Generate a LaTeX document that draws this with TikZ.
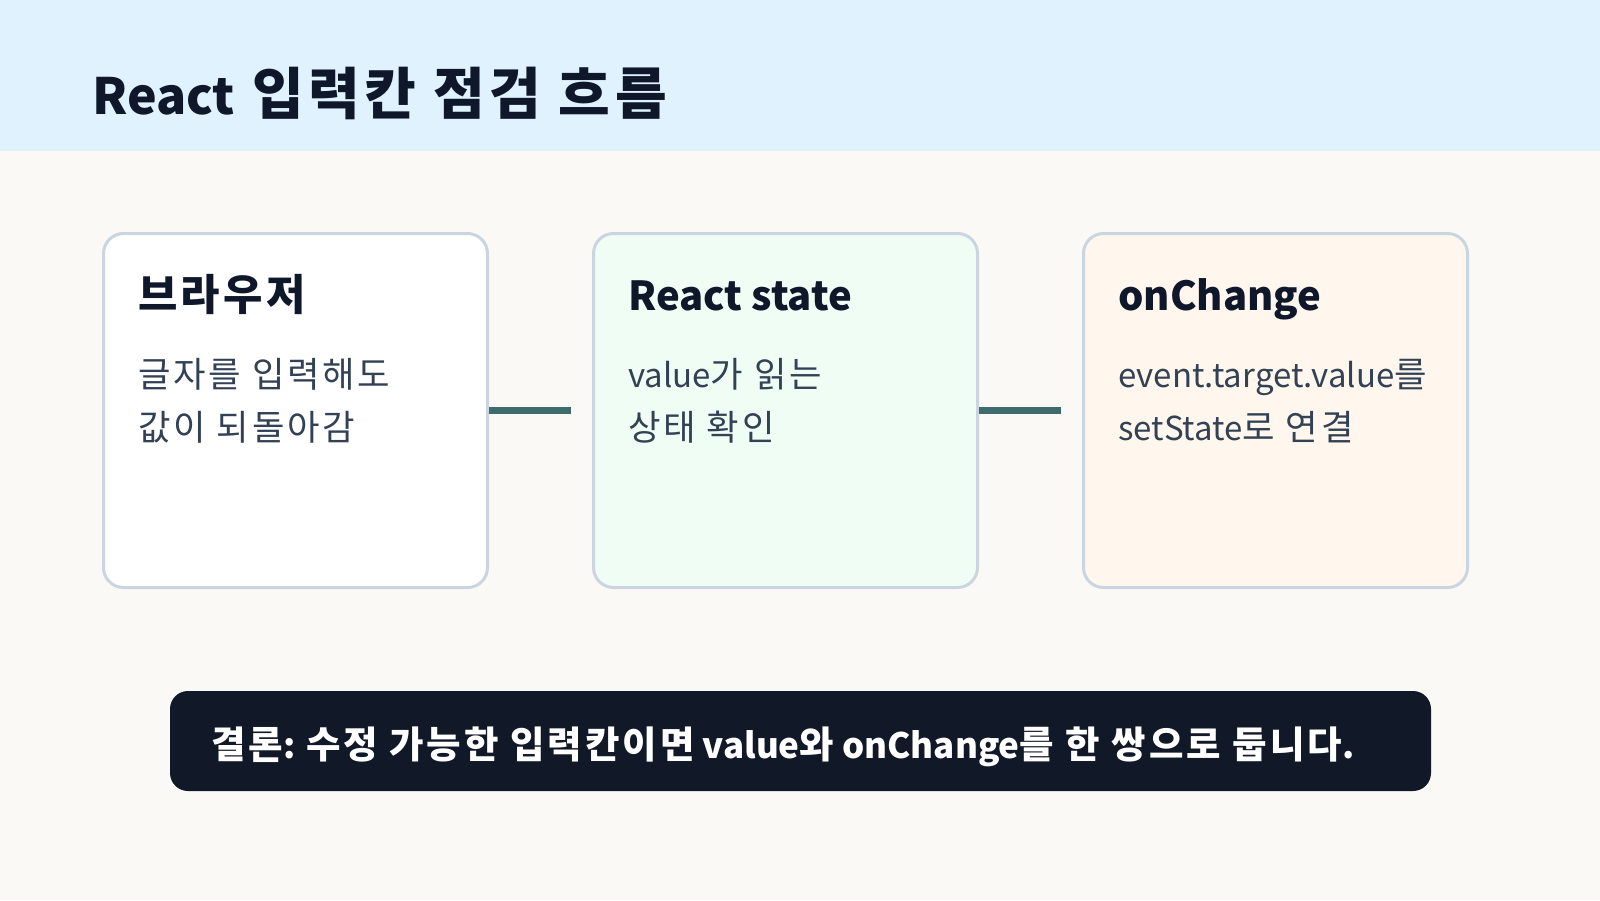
\documentclass[tikz,border=0pt]{standalone}
\usepackage{fontspec}
\setmainfont{Noto Sans CJK KR}
\newfontfamily\kr{Noto Sans CJK KR}[Scale=1.07, LetterSpace=8]
\definecolor{headbg}{HTML}{E0F2FE}
\definecolor{pagebg}{HTML}{FAF9F6}
\definecolor{cardline}{HTML}{CBD5E1}
\definecolor{inkdark}{HTML}{0F172A}
\definecolor{inkbody}{HTML}{334155}
\definecolor{connline}{HTML}{3E6B6C}
\definecolor{greenfill}{HTML}{F0FDF4}
\definecolor{orangefill}{HTML}{FFF7ED}
\definecolor{navy}{HTML}{111827}
\tikzset{
  card/.style={draw=cardline, line width=3pt, rounded corners=20pt, minimum width=384pt, minimum height=354pt, inner sep=0pt},
  cardtitle/.style={anchor=base west, inner sep=0pt, text=inkdark, font=\fontsize{40}{48}\selectfont\bfseries},
  cardbody/.style={anchor=base west, inner sep=0pt, text=inkbody, font=\fontsize{33}{40}\selectfont},
  conn/.style={draw=connline, line width=7pt},
}
\begin{document}
\begin{tikzpicture}[x=1pt,y=-1pt]
\useasboundingbox (0,0) rectangle (1600,900);
\fill[pagebg] (0,0) rectangle (1600,900);
\fill[headbg] (0,0) rectangle (1600,151);
\node[anchor=base west, inner sep=0pt, text=inkdark, font=\fontsize{50}{60}\selectfont\bfseries] (title) at (92,114) {React{\kr\fontsize{52.5}{60}\selectfont{} 입력칸 점검 흐름}};

\node[card, fill=white] (b1) at (295.5,410.5) {};
\node[card, fill=greenfill] (b2) at (785.5,410.5) {};
\node[card, fill=orangefill] (b3) at (1275.5,410.5) {};

\draw[conn, shorten >=21pt] (b1.east) -- (b2.west);
\draw[conn, shorten >=21pt] (b2.east) -- (b3.west);

\node[cardtitle] (t1) at (138,310) {\kr 브라우저};
\node[cardtitle] (t2) at (628,310) {React state};
\node[cardtitle] (t3) at (1118,310) {onChange};

\node[cardbody] (d1a) at (138,387) {\kr 글자를 입력해도};
\node[cardbody] (d1b) at (138,440) {\kr 값이 되돌아감};
\node[cardbody] (d2a) at (628,387) {value{\kr 가 읽는}};
\node[cardbody] (d2b) at (628,440) {\kr 상태 확인};
\node[cardbody] (d3a) at (1118,387) {event.target.value{\kr 를}};
\node[cardbody] (d3b) at (1118,440) {setState{\kr 로 연결}};

\node[fill=navy, rounded corners=18pt, minimum width=1261pt, minimum height=100pt, inner sep=0pt] (note) at (800.5,741) {};
\node[anchor=base west, inner sep=0pt, text=white, font=\fontsize{35}{42}\selectfont\bfseries] (notetext) at (211,758) {{\kr 결론}: {\kr 수정 가능한 입력칸이면} value{\kr 와} onChange{\kr 를 한 쌍으로 둡니다}.};
\end{tikzpicture}
\end{document}
